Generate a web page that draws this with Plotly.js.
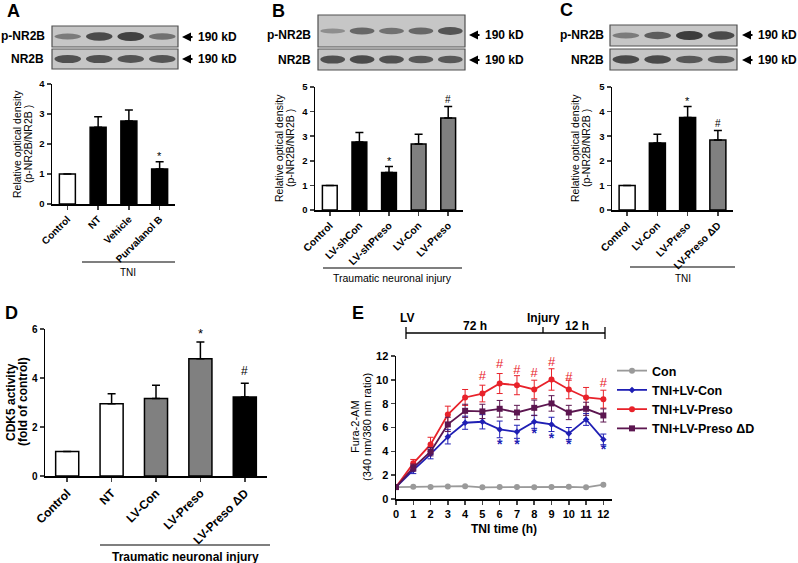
<!DOCTYPE html>
<html><head><meta charset="utf-8">
<script src="https://cdn.plot.ly/plotly-3.0.1.min.js"></script>
<style>html,body{margin:0;padding:0;background:#fff}#plot{width:798px;height:563px}</style>
</head><body><div id="plot"></div>
<script>
// ---------- DATA ----------
const catA = ['Control','NT','Vehicle','Purvalanol B'];
const valA = [1, 2.56, 2.77, 1.17];
const errA = [0, 0.35, 0.36, 0.24];

const catB = ['Control','LV-shCon','LV-shPreso','LV-Con','LV-Preso'];
const valB = [1, 2.76, 1.52, 2.68, 3.74];
const errB = [0, 0.39, 0.25, 0.40, 0.47];

const catC = ['Control','LV-Con','LV-Preso','LV-Preso \u0394D'];
const valC = [1, 2.72, 3.76, 2.85];
const errC = [0, 0.36, 0.45, 0.38];

const catD = ['Control','NT','LV-Con','LV-Preso','LV-Preso \u0394D'];
const valD = [1, 2.95, 3.16, 4.79, 3.22];
const errD = [0, 0.41, 0.54, 0.68, 0.57];

const timeE = [0,1,2,3,4,5,6,7,8,9,10,11,12];
const conE = [1.0,1.02,1.0,1.05,1.08,0.98,1.0,1.0,0.98,1.0,1.02,0.98,1.2];
const lvConE = [1.0,2.43,3.77,5.22,6.4,6.48,5.84,5.64,6.48,6.26,5.5,6.68,5.0];
const lvConErr = [0.1,0.3,0.4,0.6,0.55,0.6,0.7,0.55,0.55,0.6,0.5,0.5,0.45];
const presoE = [1.0,2.99,4.58,7.09,8.52,8.85,9.69,9.55,9.19,10.03,9.19,8.52,8.38];
const presoErr = [0.1,0.33,0.6,0.7,0.67,0.7,0.84,0.8,0.78,0.9,0.78,0.84,0.75];
const dDE = [1.0,2.63,3.97,6.26,7.4,7.35,7.57,7.26,7.65,8.02,7.26,7.57,7.01];
const dDErr = [0.1,0.3,0.35,0.6,0.55,0.6,0.7,0.6,0.65,0.65,0.6,0.55,0.55];
const hashX = [5,6,7,8,9,10,12];
const hashY = [10.3,11.3,10.8,10.5,11.4,10.2,9.7];
const starX = [6,7,8,9,10,12];
const starY = [4.5,4.5,5.45,5.0,4.5,4.05];

// western blot band intensities (0..1)
const blotA_p = [0.35, 0.85, 0.95, 0.45];
const blotA_t = [0.8, 0.8, 0.75, 0.75];
const blotB_p = [0.15, 0.55, 0.45, 0.55, 0.75];
const blotB_t = [0.8, 0.85, 0.8, 0.7, 0.7];
const blotC_p = [0.35, 0.65, 1.0, 0.85];
const blotC_t = [0.85, 0.85, 0.7, 0.7];

// ---------- STYLE ----------
const W = 798, H = 563;
const X = px => px / W;
const Y = py => 1 - py / H;
const FONT = 'Liberation Sans, Arial, sans-serif';
const WHITE = '#ffffff', BLACK = '#000000', GREY = '#808080';
const colA = [WHITE, BLACK, BLACK, BLACK];
const colB = [WHITE, BLACK, BLACK, GREY, GREY];
const colC = [WHITE, BLACK, BLACK, GREY];
const colD = [WHITE, WHITE, GREY, GREY, BLACK];

function barTrace(cats, vals, errs, cols, ax, width) {
  return {
    type: 'bar', x: cats, y: vals, xaxis: 'x' + ax, yaxis: 'y' + ax,
    width: width,
    marker: {color: cols, line: {color: BLACK, width: 1.5}},
    error_y: {type: 'data', symmetric: false, array: errs, arrayminus: errs.map(() => 0),
              color: BLACK, thickness: 1.5, width: 4},
    showlegend: false, hoverinfo: 'skip'
  };
}

const traces = [
  barTrace(catA, valA, errA, colA, '', 0.52),
  barTrace(catB, valB, errB, colB, '2', 0.5),
  barTrace(catC, valC, errC, colC, '3', 0.53),
  barTrace(catD, valD, errD, colD, '4', 0.52),
];

function lineTrace(name, y, err, color, symbol, size) {
  const t = {
    type: 'scatter', mode: 'lines+markers', name: name, x: timeE, y: y,
    xaxis: 'x5', yaxis: 'y5',
    line: {color: color, width: 1.8},
    marker: {color: color, symbol: symbol, size: size},
    hoverinfo: 'skip'
  };
  if (err) t.error_y = {type: 'data', array: err, color: color, thickness: 1, width: 3};
  return t;
}
traces.push(lineTrace('Con', conE, null, '#9a9a9a', 'circle', 6));
traces.push(lineTrace('TNI+LV-Con', lvConE, lvConErr, '#1f1fb4', 'diamond', 5));
traces.push(lineTrace('TNI+LV-Preso', presoE, presoErr, '#e8222a', 'circle', 6));
traces.push(lineTrace('TNI+LV-Preso \u0394D', dDE, dDErr, '#5c1650', 'square', 6));
traces.push({type: 'scatter', mode: 'text', x: hashX, y: hashY, text: hashX.map(() => '#'),
  textfont: {family: FONT, size: 13, color: '#e8222a'}, xaxis: 'x5', yaxis: 'y5', showlegend: false, hoverinfo: 'skip'});
traces.push({type: 'scatter', mode: 'text', x: starX, y: starY, text: starX.map(() => '*'),
  textfont: {family: FONT, size: 14, color: '#1f1fb4', weight: 'bold'}, xaxis: 'x5', yaxis: 'y5', showlegend: false, hoverinfo: 'skip'});

// ---------- AXES ----------
function yAx(range, dtick, y0, y1, anchor, tsize) {
  return {
    domain: [Y(y0), Y(y1)], range: range, dtick: dtick, anchor: anchor,
    showline: true, linecolor: BLACK, linewidth: 1.5, ticks: 'outside', ticklen: 4, tickwidth: 1.5,
    showgrid: false, zeroline: false, fixedrange: true,
    tickfont: {family: FONT, size: tsize, weight: 'bold', color: BLACK}
  };
}
function xCat(n, x0, x1, anchor, tsize) {
  return {
    domain: [X(x0), X(x1)], type: 'category', range: [-0.5, n - 0.5], anchor: anchor,
    showline: true, linecolor: BLACK, linewidth: 1.5, ticks: 'outside', ticklen: 4, tickwidth: 1.5,
    tickangle: -45, showgrid: false, zeroline: false, fixedrange: true,
    tickfont: {family: FONT, size: tsize, weight: 'bold', color: BLACK}
  };
}

const layout = {
  width: W, height: H, margin: {l: 0, r: 0, t: 0, b: 0},
  paper_bgcolor: WHITE, plot_bgcolor: 'rgba(0,0,0,0)',
  font: {family: FONT, color: BLACK},
  bargap: 0.4,
  xaxis: xCat(4, 52, 175, 'y', 10),
  yaxis: yAx([0, 4], 1, 204, 84, 'x', 9.5),
  xaxis2: xCat(5, 315, 463, 'y2', 10.3),
  yaxis2: yAx([0, 5], 1, 210, 87, 'x2', 9.5),
  xaxis3: xCat(4, 612, 733, 'y3', 10.3),
  yaxis3: yAx([0, 5], 1, 210, 87, 'x3', 9.5),
  xaxis4: xCat(5, 45, 267, 'y4', 12),
  yaxis4: yAx([0, 6], 2, 476, 329, 'x4', 10),
  xaxis5: {
    domain: [X(396), X(612)], range: [0, 12.5], dtick: 1, anchor: 'y5',
    showline: true, linecolor: BLACK, linewidth: 1.5, ticks: 'outside', ticklen: 4, tickwidth: 1.5,
    showgrid: false, zeroline: false, fixedrange: true,
    tickfont: {family: FONT, size: 11, weight: 'bold', color: BLACK},
    title: {text: 'TNI time (h)', standoff: 6, font: {family: FONT, size: 12, weight: 'bold', color: BLACK}}
  },
  yaxis5: yAx([0, 12], 2, 499, 356, 'x5', 11),
  legend: {x: X(612), y: Y(356), xanchor: 'left', yanchor: 'top', bgcolor: 'rgba(0,0,0,0)',
           font: {family: FONT, size: 12.5, weight: 'bold', color: BLACK}, itemwidth: 30, tracegroupgap: 0},
  shapes: [], annotations: []
};

const shapes = layout.shapes, ann = layout.annotations;
function txt(text, px, py, size, opts) {
  ann.push(Object.assign({text: text, x: X(px), y: Y(py), xref: 'paper', yref: 'paper', showarrow: false,
    font: {family: FONT, size: size, weight: 'bold', color: BLACK}, xanchor: 'center', yanchor: 'middle'}, opts || {}));
}
// two-line rotated y-axis titles, one annotation per line for tight spacing
function ytitle(l1, l2, px1, px2, py, size, bold) {
  const f = {family: FONT, size: size, weight: bold ? 'bold' : 'normal', color: BLACK};
  txt(l1, px1, py, size, {textangle: -90, font: f});
  txt(l2, px2, py, size, {textangle: -90, font: f});
}
function hline(x0, x1, y, w) {
  shapes.push({type: 'line', xref: 'paper', yref: 'paper', x0: X(x0), x1: X(x1), y0: Y(y), y1: Y(y), line: {color: BLACK, width: w || 1.2}});
}
function vline(x, y0, y1, w) {
  shapes.push({type: 'line', xref: 'paper', yref: 'paper', x0: X(x), x1: X(x), y0: Y(y0), y1: Y(y1), line: {color: BLACK, width: w || 1.2}});
}
function arrowLabel(px, py) {
  ann.push({text: '', x: X(px), y: Y(py), xref: 'paper', yref: 'paper', showarrow: true,
    ax: 12, ay: 0, arrowhead: 2, arrowsize: 0.9, arrowwidth: 2, arrowcolor: BLACK, standoff: 0, startstandoff: 0});
  txt('190 kD', px + 14, py, 12, {xanchor: 'left'});
}
function blot(x0, x1, y0, y1, bands) {
  shapes.push({type: 'rect', xref: 'paper', yref: 'paper', x0: X(x0), x1: X(x1), y0: Y(y1), y1: Y(y0),
    fillcolor: '#c6c6c6', line: {color: '#505050', width: 1.2}, layer: 'below'});
  const lw = (x1 - x0) / bands.length, cy = (y0 + y1) / 2;
  bands.forEach((v, i) => {
    const cx = x0 + lw * (i + 0.5), hw = lw * 0.42, hh = 2 + 2.6 * v;
    shapes.push({type: 'circle', xref: 'paper', yref: 'paper', x0: X(cx - hw), x1: X(cx + hw),
      y0: Y(cy + hh), y1: Y(cy - hh), fillcolor: `rgba(35,35,35,${0.25 + 0.6 * v})`, line: {width: 0}, layer: 'below'});
  });
}

// Panel letters
txt('A', 13, 11, 18); txt('B', 278, 11, 18); txt('C', 566, 10, 18); txt('D', 11, 313, 18); txt('E', 358, 313, 18);

// Y-axis titles
ytitle('Relative optical density', '(p-NR2B/NR2B )', 17, 28, 144, 10.5, false);
ytitle('Relative optical density', '(p-NR2B/NR2B )', 279, 290, 148, 10.5, false);
ytitle('Relative optical density', '(p-NR2B/NR2B )', 575, 586, 148, 10.5, false);
ytitle('CDK5 activity', '(fold of control)', 11, 23, 402, 12, true);
ytitle('Fura-2-AM', '(340 nm/380 nm ratio)', 355, 367, 427, 11, false);

// Blots
blot(52, 178, 26, 47, blotA_p); blot(52, 178, 49, 69, blotA_t);
blot(318, 465, 15, 47, blotB_p); blot(318, 465, 49, 70, blotB_t);
blot(610, 737, 25, 46, blotC_p); blot(610, 737, 49, 70, blotC_t);
[[47, 36, 'p-NR2B'], [46, 59, 'NR2B'], [313, 35, 'p-NR2B'], [313, 60, 'NR2B'], [606, 35, 'p-NR2B'], [606, 60, 'NR2B']]
  .forEach(a => txt(a[2], a[0], a[1], 12, {xanchor: 'right'}));
[[182, 37], [182, 59], [469, 35], [469, 60], [742, 35], [742, 60]]
  .forEach(a => arrowLabel(a[0], a[1]));

// Group brackets
hline(82, 175, 262); txt('TNI', 128, 272, 10, {font: {family: FONT, size: 10, color: BLACK}});
hline(323, 462, 268); txt('Traumatic neuronal injury', 392, 278, 10, {font: {family: FONT, size: 10.5, color: BLACK}});
hline(630, 735, 267); txt('TNI', 683, 278, 10, {font: {family: FONT, size: 10, color: BLACK}});
hline(100, 270, 545); txt('Traumatic neuronal injury', 185, 557, 12);

// Significance marks on bars
function mark(s, xa, ya, cat, yv, size) {
  ann.push({text: s, x: cat, y: yv, xref: xa, yref: ya, showarrow: false, yanchor: 'middle',
    font: {family: FONT, size: size || 10, color: BLACK}});
}
mark('*', 'x', 'y', 'Purvalanol B', 1.6, 11);
mark('*', 'x2', 'y2', 'LV-shPreso', 2.0, 11);
mark('#', 'x2', 'y2', 'LV-Preso', 4.48, 10);
mark('*', 'x3', 'y3', 'LV-Preso', 4.44, 11);
mark('#', 'x3', 'y3', 'LV-Preso \u0394D', 3.53, 10);
mark('*', 'x4', 'y4', 'LV-Preso', 5.8, 13);
mark('#', 'x4', 'y4', 'LV-Preso \u0394D', 4.27, 12);

// Timeline in E
hline(406, 605, 333, 1.3); vline(406, 327, 339, 1.3); vline(543, 327, 333, 1.3); vline(605, 327, 339, 1.3);
txt('LV', 407, 318, 12); txt('72 h', 475, 326, 12); txt('Injury', 543, 318, 12); txt('12 h', 577, 326, 12);

Plotly.newPlot('plot', traces, layout, {staticPlot: true, displayModeBar: false});
</script></body></html>
